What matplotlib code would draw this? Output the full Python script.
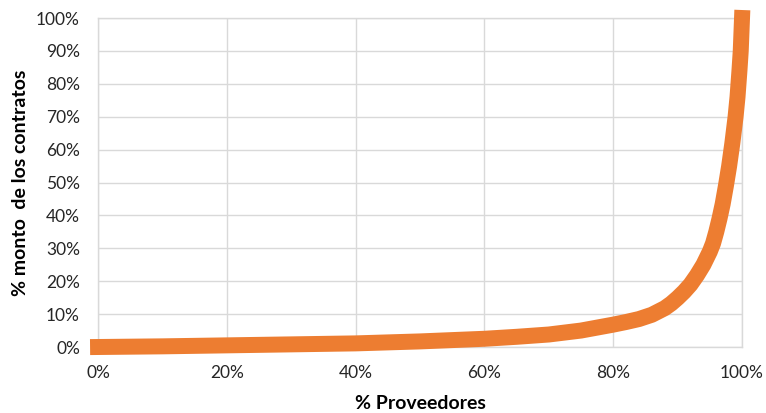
import matplotlib
matplotlib.use("Agg")
import matplotlib.pyplot as plt
from matplotlib.ticker import PercentFormatter

# Lorenz-style curve: % suppliers vs % contract amount
pct_proveedores = [0, 10, 20, 30, 40, 50, 60, 65, 70, 75, 80, 82, 84, 86, 88, 89, 90, 91, 92, 93, 94, 95,
                   95.5, 96, 96.5, 97, 97.5, 98, 98.5, 99, 99.3, 99.6, 99.8, 100]
pct_monto = [0, 0.2, 0.5, 0.8, 1.1, 1.7, 2.5, 3.1, 3.8, 5.0, 6.8, 7.6, 8.5, 9.8, 11.8, 13.2, 14.9, 16.8, 19,
             21.8, 25, 29, 31.5, 35, 39, 43.5, 49, 55, 62, 70, 76, 84, 90, 100]
x_ticks = [0, 20, 40, 60, 80, 100]
y_ticks = [0, 10, 20, 30, 40, 50, 60, 70, 80, 90, 100]

plt.rcParams['font.family'] = ['Lato', 'DejaVu Sans']

fig = plt.figure(figsize=(7.66, 4.13), dpi=100)
ax = fig.add_axes([0.128, 0.1598, 0.8407, 0.7966])

ax.plot(pct_proveedores, pct_monto, color='#ED7D31', lw=11.5,
        solid_capstyle='projecting', solid_joinstyle='round', clip_on=False, zorder=3)

ax.set_xlim(0, 100)
ax.set_ylim(0, 100)
ax.set_xticks(x_ticks)
ax.set_yticks(y_ticks)
ax.xaxis.set_major_formatter(PercentFormatter(decimals=0))
ax.yaxis.set_major_formatter(PercentFormatter(decimals=0))
ax.grid(True, color='#d9d9d9', lw=1)
ax.set_axisbelow(True)
for s in ax.spines.values():
    s.set_color('#d9d9d9')
    s.set_linewidth(1)
ax.tick_params(length=0, labelsize=12.5, pad=13)
for lab in ax.get_xticklabels() + ax.get_yticklabels():
    lab.set_color('#262626')

ax.set_xlabel('% Proveedores', fontsize=14, fontweight='bold', va='center')
ax.set_ylabel('% monto  de los contratos', fontsize=14, fontweight='bold', va='center')
ax.xaxis.set_label_coords(0.5, -0.173)
ax.yaxis.set_label_coords(-0.121, 0.5)

fig.savefig('out.png', dpi=100)
